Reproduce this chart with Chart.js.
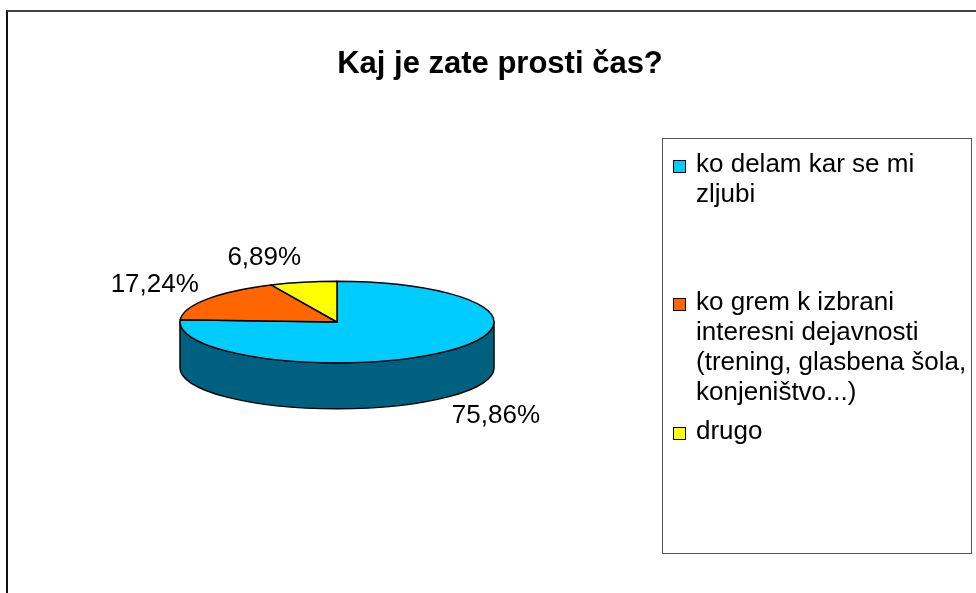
<!DOCTYPE html>
<html>
<head>
<meta charset="utf-8">
<script src="https://cdn.jsdelivr.net/npm/chart.js@4.4.0/dist/chart.umd.min.js"></script>
<style>
    body { margin: 0; background: #fff; font-family: "Liberation Sans", Arial, sans-serif; }
    #wrap { position: relative; width: 976px; height: 593px; overflow: hidden; }
    #frame { position: absolute; left: 6px; top: 10px; width: 1000px; height: 700px;
             border-left: 2px solid #111; border-top: 2px solid #444; }
    #chart { position: absolute; left: 0; top: 0; }
    #title { position: absolute; left: 0; top: 45px; width: 1000px; text-align: center;
             font-weight: bold; font-size: 31px; line-height: 35px; color: #000; }
    #legend { position: absolute; left: 662px; top: 138px; width: 308px; height: 414px;
              border: 1px solid #555; background: #fff; }
    .item { position: absolute; left: 0; font-size: 26px; line-height: 30px; color: #000; }
    .item .box { position: absolute; left: 10px; top: 12px; width: 11px; height: 11px;
                 border: 1.5px solid #000; }
    .item .txt { position: absolute; left: 33px; top: 0; width: 278px; }
</style>
</head>
<body>
<div id="wrap">
    <div id="frame"></div>
    <canvas id="chart" width="976" height="593"></canvas>
    <div id="title"></div>
    <div id="legend"></div>
</div>
<script>
const chartTitle = "Kaj je zate prosti čas?";
const categories = [
    "ko delam kar se mi zljubi",
    "ko grem k izbrani interesni dejavnosti (trening, glasbena šola, konjeništvo...)",
    "drugo"
];
const shares = [75.86, 17.24, 6.89];

const topColors = ["#00CCFF", "#FF6600", "#FFFF00"];
const sideColors = ["#006080", "#993D00", "#999900"];

document.addEventListener("DOMContentLoaded", () => {
    /** --------------- Title + legend ---------------- */
    document.getElementById("title").textContent = chartTitle;

    const legend = document.getElementById("legend");
    const itemTops = [9, 147, 276];
    categories.forEach((name, i) => {
        const item = document.createElement("div");
        item.className = "item";
        item.style.top = itemTops[i] + "px";
        item.innerHTML = `<span class="box" style="background:${topColors[i]}"></span><span class="txt"></span>`;
        item.querySelector(".txt").textContent = name;
        legend.appendChild(item);
    });

    /** --------------- 3D pie drawing ---------------- */
    const pie3d = {
        id: "pie3d",
        beforeDatasetsDraw(chart, args, opts) {
            const ctx = chart.ctx;
            const arcs = chart.getDatasetMeta(0).data;
            if (!arcs.length) return false;
            const cx = arcs[0].x, cy = arcs[0].y, rx = arcs[0].outerRadius;
            const ry = rx * opts.tilt;
            const depth = opts.depth;

            ctx.save();
            ctx.lineWidth = opts.edgeWidth;
            ctx.strokeStyle = "#000";
            ctx.lineJoin = "round";

            // side walls, only the front half is visible
            arcs.forEach((arc, i) => {
                [-2 * Math.PI, 0, 2 * Math.PI].forEach(k => {
                    const lo = Math.max(arc.startAngle, k);
                    const hi = Math.min(arc.endAngle, k + Math.PI);
                    if (hi <= lo) return;
                    ctx.beginPath();
                    ctx.ellipse(cx, cy, rx, ry, 0, lo, hi);
                    ctx.ellipse(cx, cy + depth, rx, ry, 0, hi, lo, true);
                    ctx.closePath();
                    ctx.fillStyle = sideColors[i];
                    ctx.fill();
                    ctx.stroke();
                });
            });

            // top faces
            arcs.forEach((arc, i) => {
                ctx.beginPath();
                ctx.moveTo(cx, cy);
                ctx.ellipse(cx, cy, rx, ry, 0, arc.startAngle, arc.endAngle);
                ctx.closePath();
                ctx.fillStyle = topColors[i];
                ctx.fill();
                ctx.stroke();
            });

            // percentage labels, placed just outside the rim
            ctx.fillStyle = "#000";
            ctx.font = '26px "Liberation Sans", Arial, sans-serif';
            ctx.textAlign = "center";
            ctx.textBaseline = "middle";
            arcs.forEach((arc, i) => {
                const mid = (arc.startAngle + arc.endAngle) / 2;
                const c = Math.cos(mid), s = Math.sin(mid);
                const px = cx + rx * c;
                const py = cy + ry * s + (s > 0 ? depth : 0);
                const text = shares[i].toFixed(2).replace(".", ",") + "%";
                const halfW = ctx.measureText(text).width / 2;
                const lx = px + Math.sign(c) * halfW + c * opts.labelGap;
                const ly = py + s * opts.labelLift;
                ctx.fillText(text, lx, ly);
            });

            ctx.restore();
            return false;
        }
    };

    new Chart(document.getElementById("chart").getContext("2d"), {
        type: "pie",
        data: {
            labels: categories,
            datasets: [
                {
                    data: shares,
                    backgroundColor: topColors,
                    borderWidth: 0,
                },
            ],
        },
        options: {
            responsive: false,
            animation: false,
            layout: { padding: { left: 180, right: 482, top: 165, bottom: 114 } },
            plugins: {
                legend: { display: false },
                title: { display: false },
                tooltip: { enabled: false },
                pie3d: { tilt: 0.26, depth: 46, edgeWidth: 1.5, labelGap: 10, labelLift: 25 },
            },
        },
        plugins: [pie3d],
    });
});
</script>
</body>
</html>
